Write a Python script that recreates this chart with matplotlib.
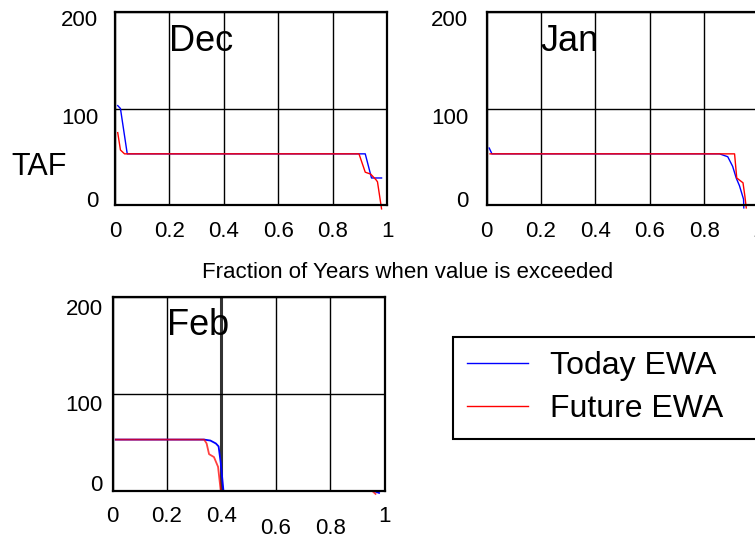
import numpy as np
import matplotlib
matplotlib.use('Agg')
import matplotlib.pyplot as plt
from matplotlib.transforms import ScaledTranslation

plt.rcParams['font.family'] = ['Liberation Sans', 'DejaVu Sans']

# exceedance curves (fraction of years, TAF)
dec_today_x = [0.01, 0.02, 0.045, 0.92, 0.943, 0.98]
dec_today_y = [103, 100, 53, 53, 28, 28]
dec_future_x = [0.01, 0.02, 0.035, 0.897, 0.92, 0.94, 0.96, 0.965, 0.98]
dec_future_y = [75, 57, 53, 53, 34, 32, 26, 24, -4]

jan_today_x = [0.01, 0.02, 0.857, 0.887, 0.905, 0.918, 0.93, 0.945, 0.946]
jan_today_y = [59, 53, 53, 50, 40, 28, 20, 6, -3]
jan_future_x = [0.013, 0.912, 0.92, 0.943, 0.95, 0.955]
jan_future_y = [53, 53, 28, 23, 9, -3]

feb_today_x = [0.012, 0.337, 0.36, 0.38, 0.39, 0.398, 0.408, 0.961, 0.98]
feb_today_y = [53, 53, 52, 49, 46, 29, 0, 0, -2]
feb_future_x = [0.012, 0.337, 0.346, 0.355, 0.373, 0.388, 0.398, 0.955, 0.967]
feb_future_y = [53, 53, 49, 38, 35, 25, 0, 0, -3]

xticks = [0, 0.2, 0.4, 0.6, 0.8, 1]
xticklabels = ['0', '0.2', '0.4', '0.6', '0.8', '1']
yticks = [0, 100, 200]
yticklabels = ['0', '100', '200']

W, H = 755, 539
fig = plt.figure(figsize=(W / 100, H / 100), dpi=100)


def make_axes(left, top, width, height):
    return fig.add_axes([left / W, 1 - (top + height) / H, width / W, height / H])


def style(ax, xpad, ypad, yshift, month, month_y):
    ax.set_xlim(0, 1)
    ax.set_ylim(0, 200)
    ax.set_xticks(xticks)
    ax.set_xticklabels(xticklabels)
    ax.set_yticks(yticks)
    ax.set_yticklabels(yticklabels)
    ax.tick_params(length=0, labelsize=16)
    ax.tick_params(axis='x', pad=xpad)
    ax.tick_params(axis='y', pad=ypad)
    ax.grid(True, color='black', lw=1)
    for s in ax.spines.values():
        s.set_linewidth(1.6)
    for lab, dy in zip(ax.get_yticklabels(), yshift):
        lab.set_transform(lab.get_transform() + ScaledTranslation(0, dy / 100, fig.dpi_scale_trans))
    ax.text(0.2, month_y, month, fontsize=26, ha='left', va='baseline')


ax_dec = make_axes(115, 12, 272, 193)
ax_jan = make_axes(486.5, 12, 272, 193)
ax_feb = make_axes(112.5, 297, 272, 194)

ax_dec.plot(dec_today_x, dec_today_y, color='#0000ff', lw=1, clip_on=False)
ax_dec.plot(dec_future_x, dec_future_y, color='#ff0000', lw=1, clip_on=False)
ax_jan.plot(jan_today_x, jan_today_y, color='#0000ff', lw=1, clip_on=False)
ax_jan.plot(jan_future_x, jan_future_y, color='#ff0000', lw=1, clip_on=False)
ax_feb.plot(feb_today_x, feb_today_y, color='#0000ff', lw=1.3, clip_on=False)
ax_feb.plot(feb_future_x, feb_future_y, color='#ff0000', lw=1.3, alpha=0.75, clip_on=False)

style(ax_dec, 11.5, 12, [6, -7, -6], 'Dec', 160)
style(ax_jan, 11.5, 13, [6, -7, -6], 'Jan', 160)
style(ax_feb, 10.5, 7, [8, -9, -10], 'Feb', 161)

# Feb: 0.4 gridline heavier, 0.6 / 0.8 labels sit lower
ax_feb.get_xgridlines()[2].set_linewidth(2.2)
ax_feb.get_xgridlines()[2].set_color('#333333')
for lab in ax_feb.get_xticklabels()[3:5]:
    lab.set_transform(lab.get_transform() + ScaledTranslation(0, -12 / 100, fig.dpi_scale_trans))

fig.text(39 / W, 1 - 167 / H, 'TAF', fontsize=22, ha='center', va='center')
fig.text(408 / W, 1 - 273 / H, 'Fraction of Years when value is exceeded',
         fontsize=16, ha='center', va='center')

handles = ax_dec.get_lines()
leg = fig.legend(handles, ['Today EWA', 'Future EWA'], loc='upper left',
                 bbox_to_anchor=(453 / W, 1 - 337 / H - 0.01, 330 / W, 0.01), mode='expand',
                 fontsize=23, frameon=True, fancybox=False, framealpha=1,
                 edgecolor='black', borderpad=0.45, handlelength=1.9,
                 handletextpad=0.7, labelspacing=0.4, borderaxespad=0)
leg.get_frame().set_linewidth(1.5)
fig.text(612 / W, 1 - 427 / H, '-', fontsize=6, ha='center', va='center', color='#555555')

fig.savefig('out.png', dpi=100)
